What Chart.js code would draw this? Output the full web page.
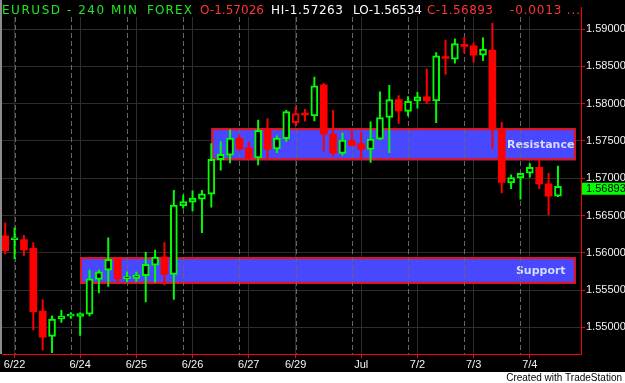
<!DOCTYPE html>
<html>
<head>
<meta charset="utf-8">
<script src="https://cdn.jsdelivr.net/npm/chart.js@4.4.1/dist/chart.umd.min.js"></script>
<style>
  html, body { margin: 0; padding: 0; background: #000; }
  canvas { display: block; }
</style>
</head>
<body>
<canvas id="chart" width="625" height="383"></canvas>
<script>
// EURUSD 240 min bars
const opens = [1.56227, 1.56175, 1.56178, 1.56060, 1.55220, 1.54879, 1.55112, 1.55150, 1.55146, 1.55177,
  1.55644, 1.55768, 1.55912, 1.55654, 1.55658, 1.55693, 1.55833, 1.55942, 1.55710, 1.56629,
  1.56681, 1.56720, 1.56786, 1.57251, 1.57311, 1.57534, 1.57408, 1.57272, 1.57661, 1.57395,
  1.57530, 1.57747, 1.57867, 1.57836, 1.58252, 1.57592, 1.57333, 1.57504, 1.57465, 1.57386,
  1.57526, 1.57815, 1.58055, 1.57898, 1.58038, 1.58091, 1.58038, 1.58633, 1.58597, 1.58794,
  1.58777, 1.58650, 1.58720, 1.57661, 1.56936, 1.57005, 1.57067, 1.57146, 1.56926, 1.56760];
const highs = [1.56402, 1.56336, 1.56235, 1.56139, 1.55374, 1.55155, 1.55230, 1.55200, 1.55194, 1.55768,
  1.55768, 1.56201, 1.55933, 1.55745, 1.55745, 1.56008, 1.56038, 1.56139, 1.56839, 1.56773,
  1.56831, 1.56839, 1.57465, 1.57487, 1.57648, 1.57583, 1.57482, 1.57780, 1.57802, 1.57570,
  1.57911, 1.57954, 1.57924, 1.58357, 1.58274, 1.57911, 1.57605, 1.57648, 1.57618, 1.57757,
  1.58160, 1.58248, 1.58108, 1.58094, 1.58151, 1.58466, 1.58685, 1.58852, 1.58869, 1.58895,
  1.58816, 1.58882, 1.59079, 1.57749, 1.57045, 1.57071, 1.57198, 1.57245, 1.57067, 1.57163];
const lows = [1.55986, 1.55920, 1.55965, 1.54967, 1.54696, 1.54660, 1.55067, 1.55120, 1.54892, 1.55155,
  1.55461, 1.55549, 1.55614, 1.55614, 1.55614, 1.55343, 1.55605, 1.55571, 1.55374, 1.56598,
  1.56563, 1.56270, 1.56612, 1.57110, 1.57206, 1.57373, 1.57255, 1.57180, 1.57255, 1.57343,
  1.57495, 1.57705, 1.57766, 1.57770, 1.57364, 1.57298, 1.57311, 1.57438, 1.57255, 1.57211,
  1.57517, 1.57343, 1.57736, 1.57836, 1.57941, 1.57999, 1.57744, 1.58392, 1.58545, 1.58685,
  1.58558, 1.58576, 1.57399, 1.56804, 1.56861, 1.56720, 1.57014, 1.56861, 1.56511, 1.56752];
const closes = [1.56030, 1.56201, 1.56038, 1.55211, 1.54870, 1.55112, 1.55151, 1.55160, 1.55185, 1.55650,
  1.55745, 1.55912, 1.55650, 1.55667, 1.55702, 1.55846, 1.55942, 1.55710, 1.56642, 1.56686,
  1.56734, 1.56791, 1.57255, 1.57320, 1.57539, 1.57395, 1.57272, 1.57644, 1.57386, 1.57539,
  1.57894, 1.57867, 1.57849, 1.58239, 1.57592, 1.57333, 1.57513, 1.57442, 1.57386, 1.57526,
  1.57815, 1.58055, 1.57902, 1.58033, 1.58091, 1.58038, 1.58642, 1.58606, 1.58807, 1.58768,
  1.58650, 1.58734, 1.57657, 1.56944, 1.57009, 1.57067, 1.57146, 1.56923, 1.56760, 1.56893];

// bar index where each date label sits
const dateTickIndex = [1, 8, 14, 20, 26, 31, 38, 44, 50, 56];
const dateTickLabels = ['6/22', '6/24', '6/25', '6/26', '6/27', '6/29', 'Jul', '7/2', '7/3', '7/4'];
// bars where the dashed session lines fall
const sessionIndex = [1, 7, 13, 19, 25, 31, 37, 43, 49, 55];
const priceTicks = [1.55, 1.555, 1.56, 1.565, 1.57, 1.575, 1.58, 1.585, 1.59];

// support / resistance zones
const zoneNames = ['Resistance', 'Support'];
const zoneLow = [1.57241, 1.55584];
const zoneHigh = [1.57671, 1.55942];
const zoneFrom = [22, 8];
const zoneTo = [60.9, 60.9];

// header values
const headerSymbol = 'EURUSD - 240 MIN';
const headerMarket = 'FOREX';
const headerOpen = 1.57026;
const headerHigh = 1.57263;
const headerLow = 1.56534;
const headerChange = '-0.0013 ...';

const GREEN = '#00ff00';
const RED = '#ff0000';

function isUp(i) { return closes[i] > opens[i]; }
function candleColor(i) {
    const prev = i === 0 ? opens[0] : closes[i - 1];
    return closes[i] >= prev ? GREEN : RED;
}

const bodies = closes.map((c, i) => ({ x: i, y: [opens[i], c] }));
const wicks = lows.map((l, i) => ({ x: i, y: [l, highs[i]] }));

function drawSpaced(ctx, text, x, y, width) {
    ctx.letterSpacing = '0px';
    const w = ctx.measureText(text).width;
    const ls = Math.max(-1, Math.min(3, (width - w) / Math.max(1, text.length - 1)));
    ctx.letterSpacing = ls + 'px';
    ctx.fillText(text, x, y);
    ctx.letterSpacing = '0px';
}

const tsPlugin = {
    id: 'tradestation',
    beforeDraw(chart) {
        const ctx = chart.ctx;
        ctx.save();
        ctx.fillStyle = '#000';
        ctx.fillRect(0, 0, chart.width, chart.height);
        ctx.restore();
    },
    beforeDatasetsDraw(chart) {
        const ctx = chart.ctx, area = chart.chartArea;
        const xs = chart.scales.x, ys = chart.scales.y;
        ctx.save();
        // band behind the header text
        ctx.fillStyle = '#000';
        ctx.fillRect(area.left, 0, area.width, 17);
        // window edge
        ctx.fillStyle = '#8c8c8c';
        ctx.fillRect(0, 0, 2, area.bottom);

        zoneNames.forEach((name, k) => {
            const l = xs.getPixelForValue(zoneFrom[k]);
            const r = xs.getPixelForValue(zoneTo[k]);
            const t = ys.getPixelForValue(zoneHigh[k]);
            const b = ys.getPixelForValue(zoneLow[k]);
            ctx.fillStyle = '#4848ff';
            ctx.fillRect(l, t, r - l, b - t);
            ctx.strokeStyle = '#ee1111';
            ctx.lineWidth = 2;
            ctx.strokeRect(l + 1, t + 1, r - l - 2, b - t - 2);
            ctx.fillStyle = '#d4dcff';
            ctx.font = 'bold 11px "DejaVu Sans"';
            ctx.textAlign = 'center';
            ctx.textBaseline = 'middle';
            ctx.fillText(name, r - 35, (t + b) / 2 + 1);
        });

        ctx.strokeStyle = '#666';
        ctx.lineWidth = 1;
        ctx.setLineDash([5, 3]);
        sessionIndex.forEach(i => {
            const px = Math.round(xs.getPixelForValue(i)) + 0.5;
            ctx.beginPath();
            ctx.moveTo(px, 17);
            ctx.lineTo(px, area.bottom);
            ctx.stroke();
        });
        ctx.restore();
    },
    afterDraw(chart) {
        const ctx = chart.ctx, area = chart.chartArea;
        const ys = chart.scales.y;
        ctx.save();
        // last price box
        const last = closes[closes.length - 1];
        const py = ys.getPixelForValue(last);
        ctx.fillStyle = GREEN;
        ctx.fillRect(area.right + 1, py - 3.5, chart.width - area.right - 1, 12);
        ctx.fillStyle = '#000';
        ctx.font = '11px "Liberation Sans"';
        ctx.textBaseline = 'middle';
        ctx.textAlign = 'left';
        ctx.fillText(last.toFixed(5), area.right + 5, py + 2.5);

        // header line
        ctx.font = '12px "DejaVu Sans"';
        ctx.textBaseline = 'alphabetic';
        const parts = [
            [headerSymbol, 2, 135, '#22e622'],
            [headerMarket, 147, 45, '#22e622'],
            ['O-' + headerOpen.toFixed(5), 200, 64, '#ff3535'],
            ['HI-' + headerHigh.toFixed(5), 271, 72, '#ffffff'],
            ['LO-' + headerLow.toFixed(5), 353, 69, '#ffffff'],
            ['C-' + last.toFixed(5), 427, 66, '#ff3535'],
            [headerChange, 510, 70, '#ff3535']
        ];
        parts.forEach(p => {
            ctx.fillStyle = p[3];
            drawSpaced(ctx, p[0], p[1], 14, p[2]);
        });

        // footer strip
        ctx.fillStyle = '#ffffff';
        ctx.fillRect(0, 372, chart.width, chart.height - 372);
        ctx.fillStyle = '#000';
        ctx.font = '10px "Liberation Sans"';
        ctx.textAlign = 'right';
        ctx.textBaseline = 'middle';
        ctx.fillText('Created with TradeStation', 622, 378);
        ctx.restore();
    }
};

document.addEventListener('DOMContentLoaded', function () {
    const ctx = document.getElementById('chart').getContext('2d');
    new Chart(ctx, {
        type: 'bar',
        data: {
            datasets: [{
                label: 'Body',
                data: bodies,
                order: 0,
                grouped: false,
                barThickness: 7,
                minBarLength: 2,
                borderSkipped: false,
                backgroundColor: c => (c.dataIndex == null ? '#000' : (isUp(c.dataIndex) ? '#000' : candleColor(c.dataIndex))),
                borderColor: c => (c.dataIndex == null ? GREEN : candleColor(c.dataIndex)),
                borderWidth: c => (c.dataIndex == null ? 0 : (isUp(c.dataIndex) ? 2 : 0))
            }, {
                label: 'Wick',
                data: wicks,
                order: 1,
                grouped: false,
                barThickness: 1.3,
                borderWidth: 0,
                backgroundColor: c => (c.dataIndex == null ? GREEN : candleColor(c.dataIndex))
            }]
        },
        options: {
            responsive: false,
            devicePixelRatio: 1,
            animation: false,
            layout: { padding: { left: 2, right: 0, top: 0, bottom: 11 } },
            plugins: {
                legend: { display: false },
                tooltip: { enabled: false }
            },
            scales: {
                x: {
                    type: 'linear',
                    offset: false,
                    min: -0.3415,
                    max: 61.46,
                    afterBuildTicks: s => { s.ticks = dateTickIndex.map(v => ({ value: v })); },
                    afterFit: s => { s.height = 18; },
                    grid: { offset: false, color: '#2c2c2c', tickColor: RED, tickLength: 4 },
                    border: { color: RED, width: 1 },
                    ticks: {
                        color: '#f2f2f2',
                        font: { family: 'Liberation Sans', size: 11 },
                        padding: 0,
                        maxRotation: 0,
                        autoSkip: false,
                        callback: (v, i) => dateTickLabels[i]
                    }
                },
                y: {
                    type: 'linear',
                    position: 'right',
                    beginAtZero: false,
                    min: 1.54643,
                    max: 1.59289,
                    afterBuildTicks: s => { s.ticks = priceTicks.map(v => ({ value: v })); },
                    afterFit: s => { s.width = 44; },
                    grid: { color: '#2c2c2c', tickColor: RED, tickLength: 4 },
                    border: { color: RED, width: 1 },
                    ticks: {
                        color: '#f2f2f2',
                        font: { family: 'Liberation Sans', size: 11 },
                        padding: 1,
                        callback: v => Number(v).toFixed(5)
                    }
                }
            }
        },
        plugins: [tsPlugin]
    });
});
</script>
</body>
</html>
